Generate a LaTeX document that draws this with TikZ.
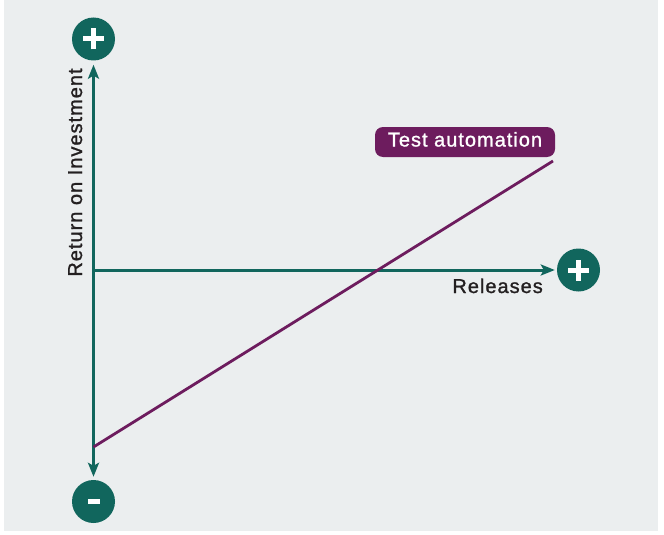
\documentclass[tikz,border=0pt]{standalone}
\usepackage{fontspec}
\setmainfont{Liberation Sans}
\newfontfamily\lblfont[LetterSpace=5, FakeBold=1.2]{Liberation Sans}
\usetikzlibrary{arrows.meta}
\definecolor{bgpanel}{HTML}{EBEEEF}
\definecolor{teal}{HTML}{11665D}
\definecolor{plum}{HTML}{6D1C5E}
\definecolor{ink}{HTML}{231F20}
\tikzset{
  axis/.style={draw=teal, line width=3pt,
    -{Stealth[length=14pt,width=11pt,inset=3pt]}},
  endcap/.style={circle, fill=teal, minimum size=43pt, inner sep=0pt},
  lbl/.style={font=\lblfont\fontsize{20}{24}\selectfont, text=ink},
  trend/.style={draw=plum, line width=2.8pt},
  tag/.style={lbl, text=white, fill=plum, rounded corners=8pt,
    minimum width=180pt, minimum height=30pt, inner sep=0pt,
    text height=14pt, text depth=5pt}
}
\begin{document}
\begin{tikzpicture}[x=1pt, y=-1pt]
  \useasboundingbox (0,0) rectangle (664,535);
  \fill[bgpanel] (4,0) rectangle (658,531);

  % end markers of the axes
  \node[endcap] (plusTop) at (93.5,39) {};
  \node[endcap] (plusRight) at (578.5,270) {};
  \node[endcap] (minusBot) at (93.5,501.5) {};
  \coordinate (origin) at (93.5,270);

  % plus and minus glyphs
  \draw[white, line width=5pt] ([xshift=-10.5pt]plusTop.center) -- ([xshift=10.5pt]plusTop.center)
    ([yshift=-10.5pt]plusTop.center) -- ([yshift=10.5pt]plusTop.center);
  \draw[white, line width=5pt] ([xshift=-10.5pt]plusRight.center) -- ([xshift=10.5pt]plusRight.center)
    ([yshift=-10.5pt]plusRight.center) -- ([yshift=10.5pt]plusRight.center);
  \fill[white] ([xshift=-6pt,yshift=-2.5pt]minusBot.center) rectangle ([xshift=6pt,yshift=2.5pt]minusBot.center);

  % axes
  \draw[axis, shorten >=4pt] (origin) -- (plusTop);
  \draw[axis, shorten >=3pt] (origin) -- (minusBot);
  \draw[axis, shorten >=2pt] (origin) -- (plusRight);

  % trend line
  \coordinate (low) at (93.5,447);
  \coordinate (high) at (553,161);
  \draw[trend] (low) -- (high);

  % labels
  \node[tag] (testAuto) at (465,142) {Test automation};
  \node[lbl, anchor=base east, inner sep=0pt] (rel) at (543,293) {Releases};
  \node[lbl, anchor=base, rotate=90, inner sep=0pt] (roi) at (82,172.5) {Return on Investment};
\end{tikzpicture}
\end{document}
